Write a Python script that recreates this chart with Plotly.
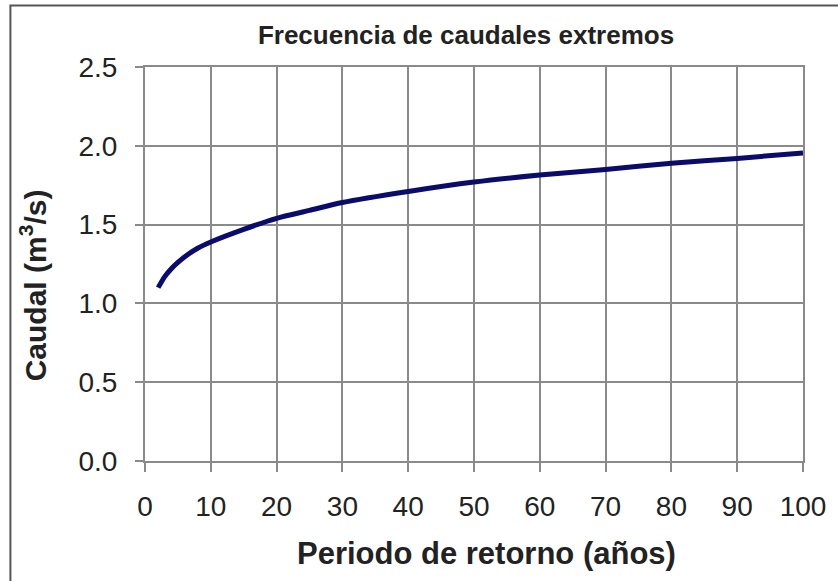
import plotly.graph_objects as go

# Return period (years) and extreme discharge (m3/s)
periodo = [2, 3, 4, 5, 6, 8, 10, 15, 20, 25, 30, 40, 50, 60, 70, 80, 90, 100]
caudal = [1.10, 1.17, 1.22, 1.26, 1.295, 1.35, 1.39, 1.47, 1.54, 1.59, 1.64,
          1.71, 1.77, 1.815, 1.85, 1.89, 1.92, 1.955]

x_ticks = [0, 10, 20, 30, 40, 50, 60, 70, 80, 90, 100]
y_ticks = [0.0, 0.5, 1.0, 1.5, 2.0, 2.5]

W, H = 838, 581
L, R, T, B = 145, 33, 67, 120
pw, ph = W - L - R, H - T - B


def px_x(p):
    return (p - L) / pw


def px_y(p):
    return (H - B - p) / ph


FONT = "Liberation Sans, Arial, sans-serif"
GRID = "#8a8a8a"
TXT = "#222222"

fig = go.Figure()
fig.add_trace(go.Scatter(
    x=periodo, y=caudal, mode="lines",
    line=dict(color="#0b0b6b", width=5, shape="spline", smoothing=0.7),
    showlegend=False, hoverinfo="skip",
))

fig.update_layout(
    width=W, height=H,
    margin=dict(l=L, r=R, t=T, b=B),
    paper_bgcolor="white", plot_bgcolor="white",
    font=dict(family=FONT, color=TXT),
    title=dict(text="<b>Frecuencia de caudales extremos</b>",
               font=dict(size=26, color=TXT, family=FONT),
               x=466 / W, xanchor="center", xref="container",
               y=1 - 35 / H, yanchor="middle", yref="container"),
    xaxis=dict(
        range=[0, 100], tickvals=x_ticks, ticktext=[str(v) for v in x_ticks],
        showgrid=True, gridcolor=GRID, gridwidth=2,
        showline=True, linecolor=GRID, linewidth=2, mirror=True,
        ticks="outside", ticklen=9, tickwidth=2, tickcolor=GRID,
        tickfont=dict(size=28, color=TXT),
        ticklabelstandoff=10,
        zeroline=False,
    ),
    yaxis=dict(
        range=[0, 2.5], tickvals=y_ticks, ticktext=[f"{v:.1f}" for v in y_ticks],
        showgrid=True, gridcolor=GRID, gridwidth=2,
        showline=True, linecolor=GRID, linewidth=2, mirror=True,
        ticks="outside", ticklen=8, tickwidth=2, tickcolor=GRID,
        tickfont=dict(size=28, color=TXT),
        ticklabelstandoff=12,
        zeroline=False,
    ),
    annotations=[
        dict(text="<b>Periodo de retorno (años)</b>", xref="paper", yref="paper",
             x=px_x(488), y=px_y(553), xanchor="center", yanchor="middle",
             showarrow=False, font=dict(size=31, color=TXT)),
        dict(text="<b>Caudal (m<sup>3</sup>/s)</b>", xref="paper", yref="paper",
             x=px_x(33), y=px_y(285), xanchor="center", yanchor="middle",
             textangle=-90, showarrow=False, font=dict(size=30, color=TXT)),
    ],
    shapes=[dict(
        type="rect", xref="paper", yref="paper",
        x0=px_x(10), x1=px_x(850),
        y0=px_y(600), y1=px_y(5.5),
        line=dict(color="#555555", width=2), fillcolor="rgba(0,0,0,0)",
        layer="below",
    )],
)

fig.write_html("out.html",
               config={"displayModeBar": False},
               post_script="document.body.style.margin='0';document.body.style.overflow='hidden';")
